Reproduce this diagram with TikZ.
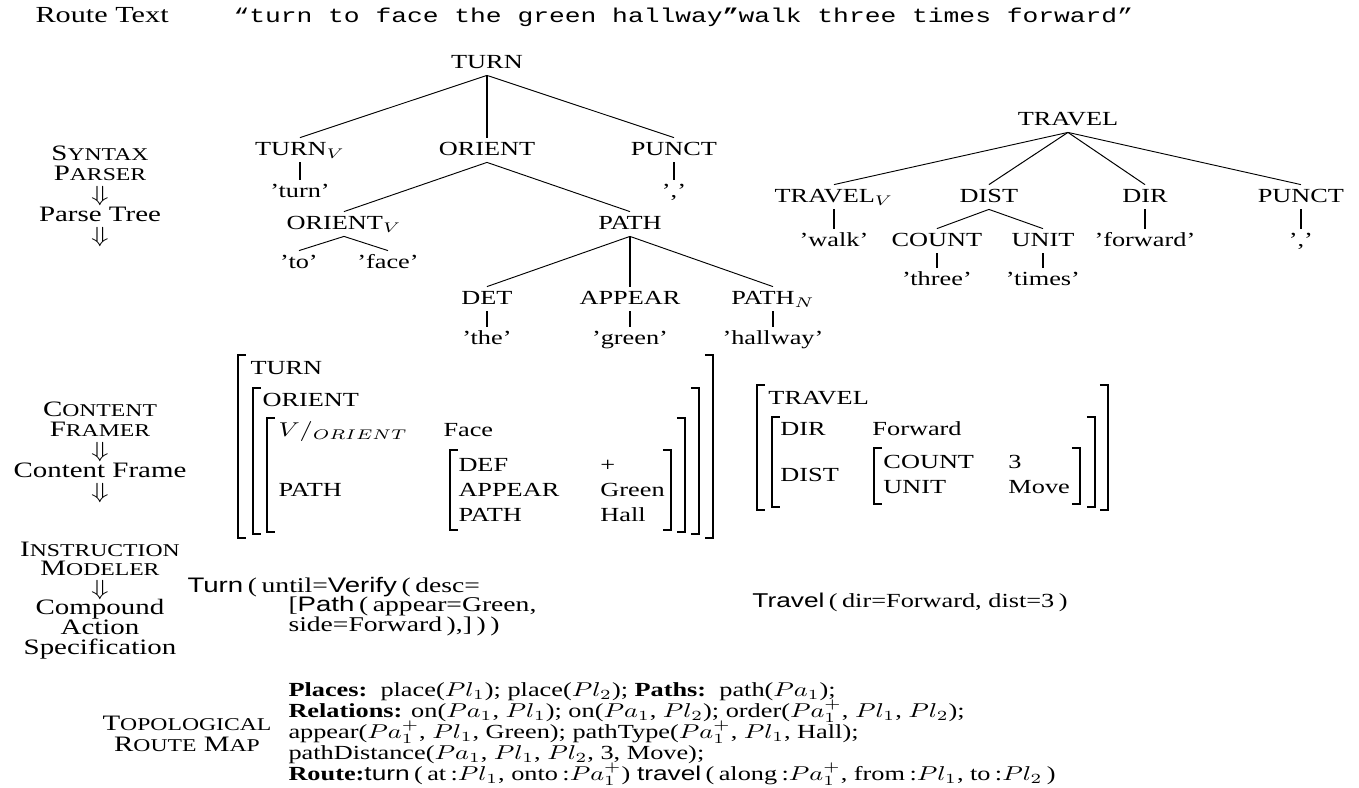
\documentclass[tikz,border=0pt]{standalone}
\usepackage{fontspec}
\setmainfont{Liberation Serif}
\setsansfont{Liberation Sans}
\setmonofont{Liberation Mono}

% fake small capitals: full-size initial, reduced capitals after it
\newcommand{\fsc}[2]{#1{\fontsize{9}{10}\selectfont #2}}
% attribute-value matrix brackets: left, top, right, bottom
\newcommand{\avmbox}[4]{%
  \draw[brk] (#1+8,#2) -- (#1,#2) -- (#1,#4) -- (#1+8,#4);
  \draw[brk] (#3-8,#2) -- (#3,#2) -- (#3,#4) -- (#3-8,#4);}

\begin{document}
\begin{tikzpicture}[
  x=0.3802pt, y=-0.5pt,
  tn/.style={font=\fontsize{10}{12}\selectfont, inner xsep=0pt, inner ysep=1.5pt,
             text height=7pt, text depth=2pt},
  lbl/.style={font=\fontsize{10}{12}\selectfont, inner sep=0pt,
              text height=7pt, text depth=2pt},
  % multi-line blocks are placed by the baseline of their last line
  stage/.style={inner sep=0pt, anchor=base, align=center,
                font={\fontsize{11}{10.25}\selectfont\lineskiplimit=-20pt}},
  lft/.style={lbl, anchor=west},
  cas/.style={lft, font=\fontsize{10.5}{12}\selectfont},
  edge/.style={line width=0.45pt},
  trunk/.style={line width=1pt},
  brk/.style={line width=0.7pt},
]
\fill[white] (0pt,0pt) rectangle (679.5pt,-393.5pt);
\useasboundingbox (0pt,0pt) rectangle (679.5pt,-393.5pt);

\begin{scope}[transform canvas={xscale=1.315}]

% ---------- route text ----------
\node[lft, font=\fontsize{11.5}{13}\selectfont] (rtlabel) at (35,18) {Route Text};
\node[lft, font=\ttfamily\fontsize{10}{12}\selectfont] (rtext) at (233,18)
  {“turn to face the green hallway\textbf{”}walk three times forward”};

% ---------- stage labels ----------
\node[stage] (sp) at (100,242)
  {\fsc{S}{YNTAX}\\\fsc{P}{ARSER}\\$\Downarrow$\\Parse Tree\\$\Downarrow$};
\node[stage] (cf) at (100,498)
  {\fsc{C}{ONTENT}\\\fsc{F}{RAMER}\\$\Downarrow$\\Content Frame\\$\Downarrow$};
\node[stage, font={\fontsize{11}{9.8}\selectfont\lineskiplimit=-20pt}] (im) at (100,654)
  {\fsc{I}{NSTRUCTION}\\\fsc{M}{ODELER}\\$\Downarrow$\\Compound\\Action\\Specification};
\node[stage] (tr) at (187,751)
  {\fsc{T}{OPOLOGICAL}\\\fsc{R}{OUTE} \fsc{M}{AP}};

% ---------- parse tree: turn ----------
\node[tn] (turn)    at (487,63)  {TURN};
\node[tn] (turnv)   at (300,150) {TURN$_V$};
\node[tn] (orient)  at (487,150) {ORIENT};
\node[tn] (punctA)  at (674,150) {PUNCT};
\node[tn] (wturn)   at (300,192) {'turn'};
\node[tn] (commaA)  at (674,192) {','};
\node[tn] (orientv) at (344,224) {ORIENT$_V$};
\node[tn] (path)    at (630,224) {PATH};
\node[tn] (wto)     at (299,263) {'to'};
\node[tn] (wface)   at (388,263) {'face'};
\node[tn] (det)     at (487,299) {DET};
\node[tn] (appear)  at (630,299) {APPEAR};
\node[tn] (pathn)   at (773,299) {PATH$_N$};
\node[tn] (wthe)    at (487,339) {'the'};
\node[tn] (wgreen)  at (630,339) {'green'};
\node[tn] (whall)   at (773,339) {'hallway'};

\draw[edge]  (turn.south) -- (turnv.north);
\draw[trunk] (turn.south) -- (orient.north);
\draw[edge]  (turn.south) -- (punctA.north);
\draw[trunk] (turnv.south) -- (wturn.north);
\draw[trunk] (punctA.south) -- (commaA.north);
\draw[edge]  (orient.south) -- (orientv.north);
\draw[edge]  (orient.south) -- (path.north);
\draw[edge]  (orientv.south) -- (wto.north);
\draw[edge]  (orientv.south) -- (wface.north);
\draw[edge]  (path.south) -- (det.north);
\draw[trunk] (path.south) -- (appear.north);
\draw[edge]  (path.south) -- (pathn.north);
\draw[trunk] (det.south) -- (wthe.north);
\draw[trunk] (appear.south) -- (wgreen.north);
\draw[trunk] (pathn.south) -- (whall.north);

% ---------- parse tree: travel ----------
\node[tn] (travel)  at (1068,120) {TRAVEL};
\node[tn] (travelv) at (834,197)  {TRAVEL$_V$};
\node[tn] (dist)    at (989,197)  {DIST};
\node[tn] (dir)     at (1145,197) {DIR};
\node[tn] (punctB)  at (1301,197) {PUNCT};
\node[tn] (wwalk)   at (834,241)  {'walk'};
\node[tn] (count)   at (937,241)  {COUNT};
\node[tn] (unit)    at (1043,241) {UNIT};
\node[tn] (wfwd)    at (1145,241) {'forward'};
\node[tn] (commaB)  at (1301,241) {','};
\node[tn] (wthree)  at (937,280)  {'three'};
\node[tn] (wtimes)  at (1043,280) {'times'};

\draw[edge]  (travel.south) -- (travelv.north);
\draw[edge]  (travel.south) -- (dist.north);
\draw[edge]  (travel.south) -- (dir.north);
\draw[edge]  (travel.south) -- (punctB.north);
\draw[trunk] (travelv.south) -- (wwalk.north);
\draw[trunk] (dir.south) -- (wfwd.north);
\draw[edge]  (punctB.south) -- (commaB.north);
\draw[edge]  (dist.south) -- (count.north);
\draw[edge]  (dist.south) -- (unit.north);
\draw[edge]  (count.south) -- (wthree.north);
\draw[edge]  (unit.south) -- (wtimes.north);

% ---------- content frame: turn ----------
\avmbox{238}{355}{713}{538}
\avmbox{253}{388}{699}{534}
\avmbox{267}{418}{685}{532}
\avmbox{450}{450}{671}{530}
\node[lft] (fturn)   at (250,369) {TURN};
\node[lft] (forient) at (262,401) {ORIENT};
\node[lft] (fv)      at (278,431) {$V/_{ORIENT}$};
\node[lft] (fface)   at (443,431) {Face};
\node[lft] (fpath)   at (278,491) {PATH};
\node[lft] (fdef)    at (458,466) {DEF};
\node[lft] (fplus)   at (600,466) {+};
\node[lft] (fapp)    at (458,491) {APPEAR};
\node[lft] (fgreen)  at (600,491) {Green};
\node[lft] (fpath2)  at (458,516) {PATH};
\node[lft] (fhall)   at (600,516) {Hall};

% ---------- content frame: travel ----------
\avmbox{757}{385}{1108}{510}
\avmbox{772}{417}{1095}{507}
\avmbox{874}{448}{1080}{504}
\node[lft] (gtravel) at (768,399)  {TRAVEL};
\node[lft] (gdir)    at (780,430)  {DIR};
\node[lft] (gfwd)    at (872,430)  {Forward};
\node[lft] (gdist)   at (780,476)  {DIST};
\node[lft] (gcount)  at (883,463)  {COUNT};
\node[lft] (gthree)  at (1008,463) {3};
\node[lft] (gunit)   at (883,488)  {UNIT};
\node[lft] (gmove)   at (1008,488) {Move};

% ---------- compound action specification ----------
\node[cas] (cas1) at (187,587) {\textsf{Turn}\,(\,until=\textsf{Verify}\,(\,desc=};
\node[cas] (cas2) at (288,606) {[\textsf{Path}\,(\,appear=Green,};
\node[cas] (cas3) at (288,626) {side=Forward\,),]\,)\,)};
\node[lft] (cas4) at (752,602) {\textsf{Travel}\,(\,dir=Forward, dist=3\,)};

% ---------- topological route map ----------
\node[inner sep=0pt, anchor=base west, align=left,
      font={\fontsize{10}{10.5}\selectfont\lineskiplimit=-20pt}] (rm) at (288,780)
 {\textbf{Places:}\ \ place($Pl_1$); place($Pl_2$); \textbf{Paths:}\ \ path($Pa_1$);\\
  \textbf{Relations:} on($Pa_1$, $Pl_1$); on($Pa_1$, $Pl_2$); order($Pa_1^+$, $Pl_1$, $Pl_2$);\\
  appear($Pa_1^+$, $Pl_1$, Green); pathType($Pa_1^+$, $Pl_1$, Hall);\\
  pathDistance($Pa_1$, $Pl_1$, $Pl_2$, 3, Move);\\
  \textbf{Route:}\textsf{turn}\,(\,at\,:$Pl_1$, onto\,:$Pa_1^+$)\ \textsf{travel}\,(\,along\,:$Pa_1^+$, from\,:$Pl_1$, to\,:$Pl_2$\,)};

\end{scope}
\end{tikzpicture}
\end{document}
